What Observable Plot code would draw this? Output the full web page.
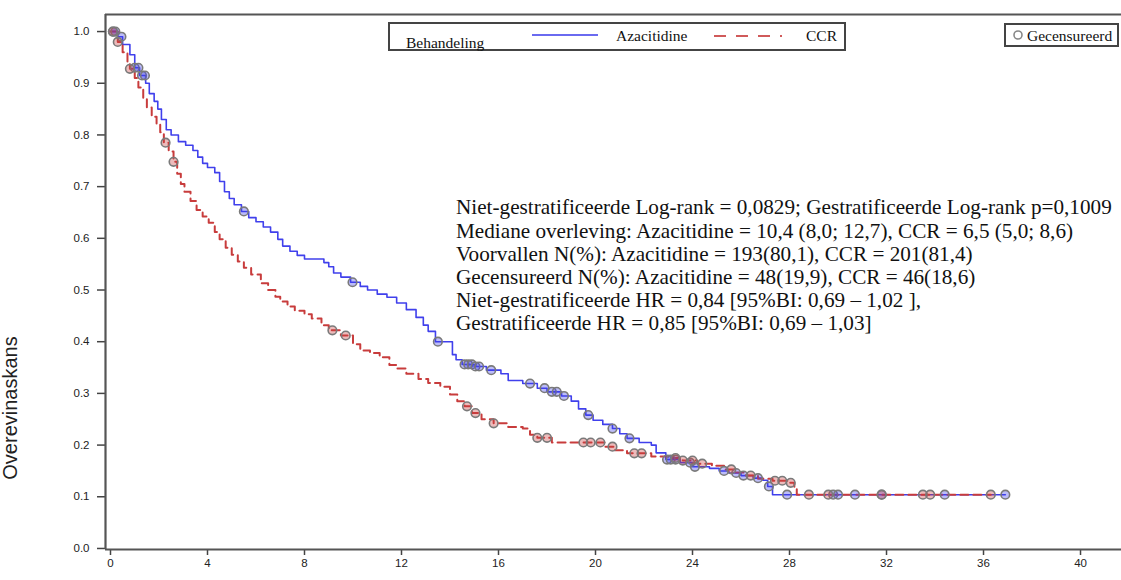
<!DOCTYPE html>
<html><head><meta charset="utf-8">
<script src="https://cdn.jsdelivr.net/npm/d3@7"></script>
<script src="https://cdn.jsdelivr.net/npm/@observablehq/plot@0.6"></script>
<style>body{margin:0;background:#fff;overflow:hidden}</style>
</head><body><div id="chart"></div>
<script>
// ---- data ----
const groups = ["Azacitidine", "CCR"];
const groupColors = ["#4040ec", "#c83c3c"];

const azaTime = [0,0.3,0.5,0.8,1.0,1.2,1.45,1.6,1.8,1.95,2.1,2.3,2.5,2.8,3.1,3.4,3.6,3.8,4.0,4.3,4.5,4.7,4.9,5.1,5.4,5.7,6.0,6.3,6.6,6.9,7.1,7.4,7.7,8.0,8.8,9.0,9.2,9.5,9.9,10.3,10.6,11.0,11.4,11.8,12.2,12.6,12.9,13.1,13.4,14.1,14.25,14.5,15.0,15.5,16.1,16.4,17.0,17.6,18.0,18.6,19.0,19.3,19.6,19.9,20.3,20.7,21.0,21.3,21.8,22.3,22.5,22.9,23.5,24.0,24.7,25.1,25.5,26.0,26.5,26.9,27.1,27.3,36.9];
const azaSurv = [1.0,0.99,0.975,0.955,0.93,0.915,0.90,0.88,0.865,0.85,0.83,0.81,0.80,0.787,0.78,0.77,0.757,0.745,0.737,0.727,0.71,0.69,0.677,0.665,0.652,0.64,0.632,0.622,0.612,0.598,0.585,0.575,0.567,0.560,0.553,0.545,0.533,0.525,0.515,0.507,0.500,0.492,0.486,0.475,0.462,0.447,0.432,0.42,0.40,0.375,0.365,0.356,0.352,0.345,0.338,0.325,0.319,0.31,0.303,0.295,0.285,0.27,0.258,0.248,0.24,0.232,0.222,0.213,0.205,0.20,0.185,0.172,0.166,0.158,0.155,0.15,0.146,0.141,0.136,0.132,0.12,0.104,0.104];

const ccrTime = [0,0.3,0.5,0.7,0.8,1.0,1.15,1.35,1.5,1.7,1.9,2.05,2.2,2.4,2.6,2.75,2.9,3.05,3.3,3.55,3.8,4.05,4.3,4.5,4.75,5.0,5.25,5.5,5.8,6.2,6.5,6.8,7.0,7.3,7.6,8.0,8.3,8.7,9.0,9.5,10.0,10.3,10.7,11.1,11.5,11.8,12.2,12.7,13.1,13.6,14.0,14.3,14.6,14.9,15.3,15.8,16.4,17.0,17.3,17.6,18.2,20.4,20.8,21.3,22.3,23.0,23.6,24.2,24.8,25.3,25.7,26.2,26.7,27.3,28.0,28.2,28.3,36.3];
const ccrSurv = [1.0,0.98,0.96,0.94,0.928,0.91,0.892,0.87,0.853,0.835,0.82,0.805,0.785,0.768,0.748,0.725,0.705,0.69,0.672,0.655,0.642,0.63,0.612,0.598,0.582,0.568,0.555,0.543,0.53,0.513,0.50,0.487,0.478,0.468,0.46,0.453,0.445,0.432,0.422,0.412,0.395,0.383,0.378,0.37,0.355,0.348,0.338,0.328,0.32,0.313,0.298,0.285,0.275,0.262,0.25,0.242,0.235,0.232,0.22,0.214,0.205,0.197,0.19,0.184,0.178,0.175,0.17,0.164,0.16,0.153,0.147,0.141,0.135,0.131,0.127,0.115,0.104,0.104];

const azaCensor = [0.1,0.2,0.45,1.0,1.15,1.3,1.42,5.5,9.98,13.5,14.6,14.75,14.9,15.05,15.2,15.7,17.3,17.9,18.2,18.4,18.7,19.7,20.7,21.4,22.95,23.1,23.3,23.9,24.1,25.3,25.8,26.1,26.7,27.15,27.9,29.8,30.0,30.7,31.8,34.4,36.9];
const ccrCensor = [0.1,0.3,0.8,2.27,2.6,9.15,9.7,14.7,15.05,15.8,17.6,18.0,19.5,19.8,20.2,20.7,21.6,21.9,23.3,23.6,24.0,24.4,25.6,26.4,27.4,27.7,28.05,28.8,29.6,31.8,33.5,33.8,36.3];

const xTicks = [0,4,8,12,16,20,24,28,32,36,40];
const yTicks = [0,0.1,0.2,0.3,0.4,0.5,0.6,0.7,0.8,0.9,1.0];
const yLabel = "Overevinaskans";
const legendTitle = "Behandeling";
const censorLabel = "Gecensureerd";
const statLines = [
  "Niet-gestratificeerde Log-rank = 0,0829; Gestratificeerde Log-rank p=0,1009",
  "Mediane overleving: Azacitidine = 10,4 (8,0; 12,7), CCR = 6,5 (5,0; 8,6)",
  "Voorvallen N(%): Azacitidine = 193(80,1), CCR = 201(81,4)",
  "Gecensureerd N(%): Azacitidine = 48(19,9), CCR = 46(18,6)",
  "Niet-gestratificeerde HR = 0,84 [95%BI: 0,69 \u2013 1,02 ],",
  "Gestratificeerde HR = 0,85 [95%BI: 0,69 \u2013 1,03]"
];

// ---- build tables ----
const rows = (g, t, s) => t.map((d, i) => ({group: g, time: d, surv: s[i]}));
const stepAt = (t, s, x) => { let v = s[0]; for (let i = 0; i < t.length; i++) { if (t[i] <= x) v = s[i]; else break; } return v; };
const aza = rows(groups[0], azaTime, azaSurv);
const ccr = rows(groups[1], ccrTime, ccrSurv);
const censors = [
  ...azaCensor.map(c => ({group: groups[0], time: c, surv: stepAt(azaTime, azaSurv, c)})),
  ...ccrCensor.map(c => ({group: groups[1], time: c, surv: stepAt(ccrTime, ccrSurv, c)}))
];

const X0 = -0.206, X1 = 41.69, Y0 = -0.002, Y1 = 1.033;
const frameStroke = "#555";

const svg = Plot.plot({
  width: 1121, height: 580,
  marginLeft: 105, marginRight: 0, marginTop: 14, marginBottom: 31,
  x: {domain: [X0, X1]},
  y: {domain: [Y0, Y1]},
  color: {domain: groups, range: groupColors},
  style: {fontFamily: "'Liberation Sans', Arial, sans-serif", fontSize: "11px", color: "#222", background: "#fff"},
  marks: [
    Plot.axisX({ticks: xTicks, tickSize: 6, tickPadding: 3, label: null, stroke: "#444", strokeWidth: 1.5, fontSize: 11.5}),
    Plot.axisY({ticks: yTicks, tickSize: 8, tickPadding: 8, label: null, tickFormat: d3.format(".1f"), stroke: "#444", strokeWidth: 1.5, fontSize: 11.5}),
    Plot.ruleX([X0], {stroke: frameStroke, strokeWidth: 2.2}),
    Plot.ruleY([Y0, Y1], {stroke: frameStroke, strokeWidth: 2.2}),
    Plot.line(aza, {x: "time", y: "surv", curve: "step-after", stroke: groupColors[0], strokeWidth: 1.6}),
    Plot.line(ccr, {x: "time", y: "surv", curve: "step-after", stroke: groupColors[1], strokeWidth: 2, strokeDasharray: "8,5"}),
    Plot.dot(censors, {x: "time", y: "surv", r: 4.3, stroke: "#7a7a7a", strokeWidth: 1.6, fill: "group", fillOpacity: 0.35})
  ]
});

const s = d3.select(svg);
const serif = "'Liberation Serif', 'Times New Roman', serif";

// y label
s.append("text").attr("transform", "translate(17,408) rotate(-90)")
  .attr("text-anchor", "middle").attr("font-family", "'Liberation Sans', Arial, sans-serif")
  .attr("font-size", 20).attr("fill", "#222").text(yLabel);

// treatment legend
const lg = s.append("g").attr("text-anchor", "start").attr("font-family", serif).attr("font-size", 15.5).attr("fill", "#111");
lg.append("rect").attr("x", 389).attr("y", 23).attr("width", 456).attr("height", 27)
  .attr("fill", "#fff").attr("stroke", "#444").attr("stroke-width", 2);
lg.append("text").attr("x", 406).attr("y", 48).text(legendTitle);
lg.append("line").attr("x1", 532).attr("x2", 598).attr("y1", 35).attr("y2", 35).attr("stroke", "#6a6af0").attr("stroke-width", 2);
lg.append("text").attr("x", 616).attr("y", 41).text(groups[0]);
lg.append("line").attr("x1", 714).attr("x2", 782).attr("y1", 36).attr("y2", 36).attr("stroke", "#d05a5a").attr("stroke-width", 2).attr("stroke-dasharray", "12,10");
lg.append("text").attr("x", 806).attr("y", 41).text(groups[1]);

// censor legend
const cg = s.append("g").attr("text-anchor", "start").attr("font-family", serif).attr("font-size", 15.5).attr("fill", "#111");
cg.append("rect").attr("x", 1005).attr("y", 24).attr("width", 113).attr("height", 22)
  .attr("fill", "#fff").attr("stroke", "#444").attr("stroke-width", 2);
cg.append("circle").attr("cx", 1018).attr("cy", 35).attr("r", 4).attr("fill", "#fff").attr("stroke", "#888").attr("stroke-width", 1.6);
cg.append("text").attr("x", 1027).attr("y", 40.5).text(censorLabel);

// statistics block
const tb = s.append("text").attr("text-anchor", "start").attr("font-family", serif).attr("font-size", 21.2).attr("fill", "#111");
statLines.forEach((l, i) => tb.append("tspan").attr("x", 456).attr("y", 207 + i * 23.2).attr("dy", "0.35em").text(l));

document.getElementById("chart").appendChild(svg);
</script>
</body></html>
